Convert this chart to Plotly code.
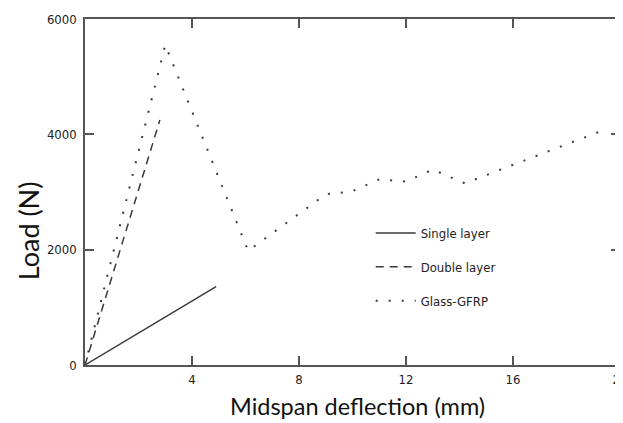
import plotly.graph_objects as go

# Data
single_x = [0, 4.9]
single_y = [0, 1360]

double_x = [0, 2.8]
double_y = [0, 4250]

gfrp_x = [0, 3.0, 6.1, 9.0, 9.5, 10.0, 11.0, 12.0, 13.0, 14.2, 19.2]
gfrp_y = [0, 5550, 1980, 2960, 2985, 3015, 3220, 3180, 3390, 3150, 4040]

x_ticks = [4, 8, 12, 16, 20]
y_ticks = [0, 2000, 4000, 6000]

line_color = "#3a3a3a"
narrow = "DejaVu Sans Condensed, sans-serif"

fig = go.Figure()
fig.add_trace(go.Scatter(x=single_x, y=single_y, mode="lines", name="Single layer",
                         legendgroup="a",
                         line=dict(color=line_color, width=1.5, dash="solid")))
fig.add_trace(go.Scatter(x=double_x, y=double_y, mode="lines", name="Double layer",
                         legendgroup="b",
                         line=dict(color=line_color, width=1.5, dash="8px,6px")))
fig.add_trace(go.Scatter(x=gfrp_x, y=gfrp_y, mode="lines", name="Glass-GFRP",
                         legendgroup="c",
                         line=dict(color=line_color, width=2, dash="2px,11px")))

axis_common = dict(showgrid=False, zeroline=False, showline=True, linecolor="#555555",
                   linewidth=1.5, mirror="ticks", ticks="inside", ticklen=9,
                   tickcolor="#555555", tickwidth=1.5, ticklabeloverflow="allow",
                   tickfont=dict(family=narrow, size=13, color="#222222"))

fig.update_layout(
    width=615, height=415,
    margin=dict(l=77, r=3, t=11, b=58, autoexpand=False),
    paper_bgcolor="white", plot_bgcolor="white",
    showlegend=True,
    legend=dict(x=0.534, y=0.425, xanchor="left", yanchor="top", itemwidth=40,
                bgcolor="rgba(0,0,0,0)", traceorder="grouped", tracegroupgap=14,
                font=dict(family=narrow, size=13, color="#222222")),
    xaxis=dict(range=[0, 20], tickvals=x_ticks, ticktext=[str(v) for v in x_ticks],
               ticklabelstandoff=2, **axis_common),
    yaxis=dict(range=[0, 6000], tickvals=y_ticks, ticktext=[str(v) for v in y_ticks],
               ticklabelstandoff=4, **axis_common),
    annotations=[
        dict(text="Midspan deflection (mm)", xref="paper", yref="paper", x=0.51, y=-0.072,
             xanchor="center", yanchor="top", showarrow=False,
             font=dict(family="Lato, Open Sans, sans-serif", size=23.5, color="#111111")),
        dict(text="Load (N)", xref="paper", yref="paper", x=-0.105, y=0.389,
             xanchor="center", yanchor="middle", showarrow=False, textangle=-90,
             font=dict(family="Lato, Open Sans, sans-serif", size=27, color="#111111")),
    ],
)

fig.write_html("out.html")
